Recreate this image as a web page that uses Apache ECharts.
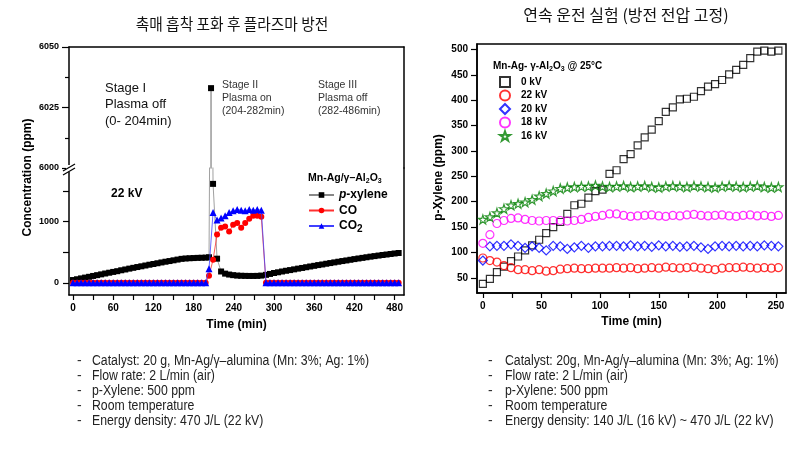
<!DOCTYPE html>
<html><head><meta charset="utf-8">
<script src="https://cdn.jsdelivr.net/npm/echarts@6/dist/echarts.min.js"></script>
<style>html,body{margin:0;padding:0;background:#fff}#c{width:800px;height:455px}</style>
</head><body><div id="c"></div>
<script>
// ---------- Left chart data (p-xylene / CO / CO2, ppm vs time) ----------
const leftStage1Time = [0,6,12,18,24,30,36,42,48,54,60,66,72,78,84,90,96,102,108,114,120,126,132,138,144,150,156,162,168,174,180,186,192,198];
const leftStage3Time = [288,294,300,306,312,318,324,330,336,342,348,354,360,366,372,378,384,390,396,402,408,414,420,426,432,438,444,450,456,462,468,474,480,486];
const pxStage2Time = [203,206,209,215,221,227,233,239,245,251,257,263,269,275,281];
const gasStage2Time = [203,209,215,221,227,233,239,245,251,257,263,269,275,281];

const pxStage1 = [45,58,72,85,98,112,125,138,152,165,178,190,205,218,232,245,258,270,283,296,308,320,333,345,356,368,380,392,398,402,405,408,410,412];
const pxStage2 = [418,6033,1620,395,185,150,135,125,118,115,113,112,112,113,118];
const pxStage3 = [130,145,160,172,185,197,208,220,232,243,255,267,278,290,300,312,323,334,345,356,366,377,388,398,408,418,428,437,446,455,463,472,480,488];

const coStage1 = [0,0,0,0,0,0,0,0,0,0,0,0,0,0,0,0,0,0,0,0,0,0,0,0,0,0,0,0,0,0,0,0,0,0];
const coStage2 = [115,377,790,900,920,840,950,980,900,980,1050,1100,1100,1080];
const coStage3 = [0,0,0,0,0,0,0,0,0,0,0,0,0,0,0,0,0,0,0,0,0,0,0,0,0,0,0,0,0,0,0,0,0,0];

const co2Stage1 = [0,0,0,0,0,0,0,0,0,0,0,0,0,0,0,0,0,0,0,0,0,0,0,0,0,0,0,0,0,0,0,0,0,0];
const co2Stage2 = [230,1150,1030,1060,1100,1150,1180,1200,1190,1180,1200,1190,1200,1190];
const co2Stage3 = [0,0,0,0,0,0,0,0,0,0,0,0,0,0,0,0,0,0,0,0,0,0,0,0,0,0,0,0,0,0,0,0,0,0];

const leftXTicks = [0,30,60,90,120,150,180,210,240,270,300,330,360,390,420,450,480];
const leftXLabels = [0,60,120,180,240,300,360,420,480];
const leftLowYTicks = [0,500,1000,1500];
const leftLowYLabels = [0,1000];

// ---------- Right chart data (p-Xylene ppm vs time at each voltage) ----------
const rightTime = [0,6,12,18,24,30,36,42,48,54,60,66,72,78,84,90,96,102,108,114,120,126,132,138,144,150,156,162,168,174,180,186,192,198,204,210,216,222,228,234,240,246,252];
const kv0  = [38,48,61,72,83,92,104,114,125,138,150,160,176,193,196,208,221,224,255,262,284,294,311,327,342,359,377,386,402,403,407,418,427,432,440,451,460,470,483,496,498,496,498];
const kv22 = [89,84,81,74,70,66,66,64,66,63,64,67,68,69,68,68,69,69,69,70,69,70,68,69,70,69,71,70,69,70,71,69,68,66,69,70,70,71,70,69,70,69,70];
const kv20 = [84,112,113,113,116,113,109,112,109,104,113,112,107,110,113,109,112,112,113,113,112,114,112,113,111,114,112,113,111,112,113,110,107,112,113,112,113,112,113,112,114,113,112];
const kv18 = [118,135,157,163,167,168,165,163,162,163,163,163,162,163,165,169,171,173,176,176,173,171,172,173,174,172,171,173,172,174,175,173,172,173,174,172,171,173,174,172,173,171,173];
const kv16 = [165,170,178,186,193,196,199,204,211,216,221,226,228,229,230,230,232,230,229,230,231,229,230,231,229,228,230,231,230,229,231,230,229,228,230,231,230,229,230,231,229,228,229];
const rightXTicks = [0,25,50,75,100,125,150,175,200,225,250];
const rightXLabels = [0,50,100,150,200,250];
const rightYValues = [50,100,150,200,250,300,350,400,450,500];

const leftNotes = ['Catalyst: 20 g, Mn-Ag/\u03b3\u2013alumina (Mn: 3%; Ag: 1%)','Flow rate: 2 L/min (air)','p-Xylene: 500 ppm','Room temperature','Energy density: 470 J/L (22 kV)'];
const rightNotes = ['Catalyst: 20g, Mn-Ag/\u03b3\u2013alumina (Mn: 3%; Ag: 1%)','Flow rate: 2 L/min (air)','p-Xylene: 500 ppm','Room temperature','Energy density: 140 J/L (16 kV) ~ 470 J/L (22 kV)'];

// ---------- build ----------
const F = '"Liberation Sans", Arial, sans-serif';
const K = '"Noto Sans CJK KR", sans-serif';
const pairs = (t, v) => t.map((x, i) => [x, v[i]]);
const pxData = pairs(leftStage1Time, pxStage1).concat(pairs(pxStage2Time, pxStage2), pairs(leftStage3Time, pxStage3));
const coData = pairs(leftStage1Time, coStage1).concat(pairs(gasStage2Time, coStage2), pairs(leftStage3Time, coStage3));
const co2Data = pairs(leftStage1Time, co2Stage1).concat(pairs(gasStage2Time, co2Stage2), pairs(leftStage3Time, co2Stage3));

const axisLine = {show: true, onZero: false, lineStyle: {color: '#000', width: 1.5}};
const bold = (s) => ({fontFamily: F, fontWeight: 'bold', fontSize: s, color: '#000'});
const plain = (v) => String(v);
const noAxisBits = {axisTick: {show: false}, axisLabel: {show: false}, splitLine: {show: false}};

const starPath = 'path://M50 2 L61.8 37.6 L99 37.6 L69 59.6 L80.4 95 L50 73.2 L19.6 95 L31 59.6 L1 37.6 L38.2 37.6 Z';

function txt(x, y, text, o) {
  o = o || {};
  return {type: 'text', x: x, y: y, rotation: o.rot || 0, scaleX: o.sx || 1, z: 100,
    style: {text: text, fill: o.color || '#000', fontFamily: o.family || F, fontSize: o.size || 12,
      fontWeight: o.weight || 'normal', fontStyle: o.style || 'normal',
      align: o.align || 'left', verticalAlign: 'middle', rich: o.rich}};
}

const graphics = [];
graphics.push(txt(232, 24, '촉매 흡착 포화 후 플라즈마 방전', {family: K, size: 16, align: 'center', sx: 0.92, color: '#111'}));
graphics.push(txt(626, 15, '연속 운전 실험 (방전 전압 고정)', {family: K, size: 16, align: 'center', color: '#111'}));
graphics.push(txt(27.5, 177.5, 'Concentration (ppm)', {size: 12, weight: 'bold', align: 'center', rot: Math.PI / 2}));
graphics.push(txt(439, 177.5, 'p-Xylene (ppm)', {size: 12, weight: 'bold', align: 'center', rot: Math.PI / 2}));
[['Stage I', 88], ['Plasma off', 104.5], ['(0- 204min)', 121]].forEach(a => graphics.push(txt(105, a[1], a[0], {size: 13, color: '#111'})));
[['Stage II', 85], ['Plasma on', 98.3], ['(204-282min)', 111]].forEach(a => graphics.push(txt(222, a[1], a[0], {size: 10.5, color: '#333'})));
[['Stage III', 85], ['Plasma off', 98.3], ['(282-486min)', 111]].forEach(a => graphics.push(txt(318, a[1], a[0], {size: 10.5, color: '#333'})));
graphics.push(txt(126.7, 194, '22 kV', {size: 12, weight: 'bold', align: 'center'}));
const subRich = (s) => ({s: {fontFamily: F, fontWeight: 'bold', fontSize: s, padding: [6, 0, 0, 0]}});
graphics.push(txt(308, 178, 'Mn-Ag/\u03b3\u2013Al{s|2}O{s|3}', {size: 10.5, weight: 'bold', rich: subRich(7)}));
graphics.push(txt(493, 66, 'Mn-Ag- \u03b3-Al{s|2}O{s|3} @ 25\u00b0C', {size: 10, weight: 'bold', rich: subRich(7)}));
const noteY = [361, 376, 391.5, 406.5, 421];
leftNotes.forEach((t, i) => { graphics.push(txt(77, noteY[i], '-', {size: 14, color: '#333'})); graphics.push(txt(92, noteY[i], t, {size: 14, sx: 0.877, color: '#222'})); });
rightNotes.forEach((t, i) => { graphics.push(txt(488, noteY[i], '-', {size: 14, color: '#333'})); graphics.push(txt(505, noteY[i], t, {size: 14, sx: 0.877, color: '#222'})); });
// axis break mark on the left value axis
graphics.push({type: 'rect', shape: {x: 66, y: 165, width: 6, height: 7}, style: {fill: '#fff'}, z: 99});
graphics.push({type: 'line', shape: {x1: 63, y1: 171, x2: 75, y2: 164}, style: {stroke: '#000', lineWidth: 1.2}, z: 100});
graphics.push({type: 'line', shape: {x1: 63, y1: 175, x2: 75, y2: 168}, style: {stroke: '#000', lineWidth: 1.2}, z: 100});

const hollow = (c) => ({color: 'rgba(0,0,0,0)', borderColor: c, borderWidth: 1.2});

const option = {
  animation: false,
  backgroundColor: '#fff',
  grid: [
    {left: 69, top: 47, width: 335, height: 121, outerBoundsMode: 'none', containLabel: false},
    {left: 69, top: 168, width: 335, height: 127, outerBoundsMode: 'none', containLabel: false},
    {left: 477, top: 44, width: 309, height: 249, outerBoundsMode: 'none', containLabel: false, show: true, borderColor: '#000', borderWidth: 1.5, backgroundColor: 'rgba(0,0,0,0)'}
  ],
  xAxis: [
    Object.assign({gridIndex: 0, type: 'value', min: -6, max: 494, position: 'top', axisLine: axisLine}, noAxisBits),
    {gridIndex: 1, type: 'value', min: -6, max: 494, position: 'bottom', axisLine: axisLine,
      axisTick: {show: true, length: 5, customValues: leftXTicks, lineStyle: {color: '#000', width: 1.2}},
      axisLabel: Object.assign({customValues: leftXLabels, margin: 8, formatter: plain}, bold(10)), splitLine: {show: false},
      name: 'Time (min)', nameLocation: 'middle', nameGap: 24, nameTextStyle: bold(12)},
    {gridIndex: 2, type: 'value', min: -5, max: 258.5, position: 'bottom', axisLine: axisLine,
      axisTick: {show: true, length: 5, customValues: rightXTicks, lineStyle: {color: '#000', width: 1.2}},
      axisLabel: Object.assign({customValues: rightXLabels, margin: 8, formatter: plain}, bold(10)), splitLine: {show: false},
      name: 'Time (min)', nameLocation: 'middle', nameGap: 18, nameTextStyle: bold(12)}
  ],
  yAxis: [
    {gridIndex: 0, type: 'value', min: 6000, max: 6050, interval: 25, axisLine: axisLine,
      axisTick: {show: true, length: 7, lineStyle: {color: '#000', width: 1.2}},
      minorTick: {show: true, splitNumber: 2, length: 4, lineStyle: {color: '#000', width: 1.2}},
      axisLabel: Object.assign({margin: 10, formatter: plain}, bold(9)), splitLine: {show: false}},
    Object.assign({gridIndex: 0, type: 'value', min: 6000, max: 6050, position: 'right', axisLine: axisLine}, noAxisBits),
    {gridIndex: 1, type: 'value', min: -200, max: 1880, axisLine: axisLine,
      axisTick: {show: true, length: 6, customValues: leftLowYTicks, lineStyle: {color: '#000', width: 1.2}},
      axisLabel: Object.assign({customValues: leftLowYLabels, margin: 10, formatter: plain}, bold(9)), splitLine: {show: false}},
    Object.assign({gridIndex: 1, type: 'value', min: -200, max: 1880, position: 'right', axisLine: axisLine}, noAxisBits),
    {gridIndex: 2, type: 'value', min: 20, max: 511, axisLine: axisLine,
      axisTick: {show: true, length: 6, customValues: rightYValues, lineStyle: {color: '#000', width: 1.2}},
      axisLabel: Object.assign({customValues: rightYValues, margin: 9, formatter: plain}, bold(10)), splitLine: {show: false}}
  ],
  legend: [
    {data: ['p-xylene', 'CO', 'CO2'], left: 308, top: 188, padding: 0, orient: 'vertical', itemWidth: 25, itemHeight: 7, itemGap: 1.5,
      textStyle: {fontFamily: F, fontWeight: 'bold', fontSize: 12, color: '#000', lineHeight: 14,
        rich: {i: {fontFamily: F, fontWeight: 'bold', fontStyle: 'italic', fontSize: 12, color: '#000'},
               s: {fontFamily: F, fontWeight: 'bold', fontSize: 10, color: '#000', padding: [7, 0, 0, 0]}}},
      formatter: function (n) { return n === 'p-xylene' ? '{i|p}-xylene' : (n === 'CO2' ? 'CO{s|2}' : n); },
      selectedMode: false},
    {data: ['0 kV', '22 kV', '20 kV', '18 kV', '16 kV'], left: 499, top: 76, padding: 0, orient: 'vertical', itemWidth: 10, itemHeight: 10, itemGap: 1.5,
      textStyle: {fontFamily: F, fontWeight: 'bold', fontSize: 10, color: '#000', lineHeight: 12, padding: [0, 0, 0, 6]}, selectedMode: false}
  ],
  graphic: graphics,
  series: [
    {name: 'p-xylene', type: 'line', xAxisIndex: 1, yAxisIndex: 2, data: pxData, color: '#000',
      symbol: 'rect', symbolSize: 6, itemStyle: {color: '#000'}, lineStyle: {color: '#888', width: 0.8}, clip: true, z: 3},
    {name: 'p-xylene', type: 'line', xAxisIndex: 0, yAxisIndex: 0, data: pxData, color: '#000',
      symbol: 'rect', symbolSize: 6, itemStyle: {color: '#000'}, lineStyle: {color: '#888', width: 0.8}, clip: true, z: 3},
    {name: 'CO', type: 'line', xAxisIndex: 1, yAxisIndex: 2, data: coData, color: '#ff0000',
      symbol: 'circle', symbolSize: 6, itemStyle: {color: '#ff0000'}, lineStyle: {color: '#ff3030', width: 0.8}, clip: true, z: 4},
    {name: 'CO2', type: 'line', xAxisIndex: 1, yAxisIndex: 2, data: co2Data, color: '#0000ff',
      symbol: 'triangle', symbolSize: 7, itemStyle: {color: '#0000ff'}, lineStyle: {color: '#4040ff', width: 0.8}, clip: true, z: 5},
    {name: '0 kV', type: 'scatter', xAxisIndex: 2, yAxisIndex: 4, data: pairs(rightTime, kv0), color: '#000',
      symbol: 'rect', symbolSize: 7, itemStyle: hollow('#000')},
    {name: '22 kV', type: 'scatter', xAxisIndex: 2, yAxisIndex: 4, data: pairs(rightTime, kv22), color: '#ff0000',
      symbol: 'circle', symbolSize: 8, itemStyle: hollow('#ff0000')},
    {name: '20 kV', type: 'scatter', xAxisIndex: 2, yAxisIndex: 4, data: pairs(rightTime, kv20), color: '#0000ff',
      symbol: 'diamond', symbolSize: 9, itemStyle: hollow('#0000ff')},
    {name: '18 kV', type: 'scatter', xAxisIndex: 2, yAxisIndex: 4, data: pairs(rightTime, kv18), color: '#ff00ff',
      symbol: 'circle', symbolSize: 8, itemStyle: hollow('#ff00ff')},
    {name: '16 kV', type: 'scatter', xAxisIndex: 2, yAxisIndex: 4, data: pairs(rightTime, kv16), color: '#008000',
      symbol: starPath, symbolSize: 9, itemStyle: hollow('#008000')}
  ]
};
const chart = echarts.init(document.getElementById('c'), null, {renderer: 'canvas', width: 800, height: 455});
chart.setOption(option);
</script></body></html>
